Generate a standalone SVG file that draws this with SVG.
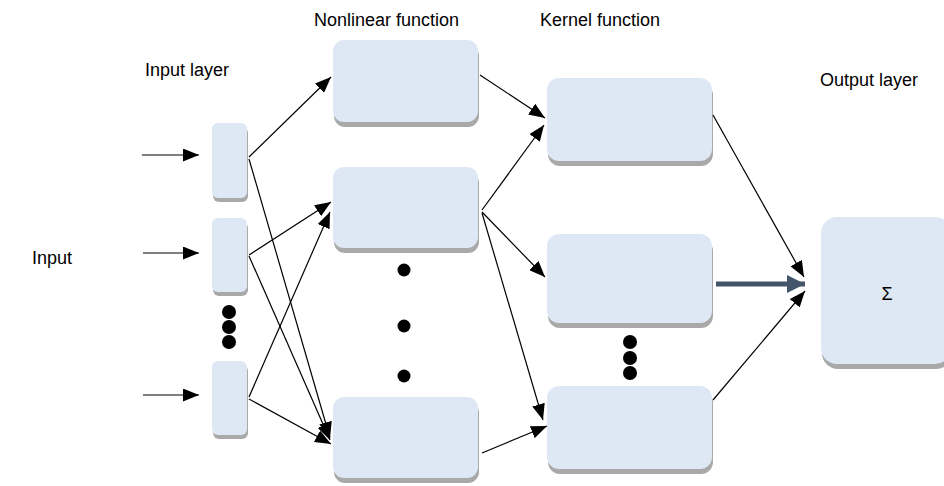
<svg xmlns="http://www.w3.org/2000/svg" width="944" height="486" viewBox="0 0 944 486">
<defs>
<marker id="ah" markerUnits="userSpaceOnUse" markerWidth="16" markerHeight="13" viewBox="0 0 16 13" refX="16" refY="6.5" orient="auto">
<path d="M0,0 L16,6.5 L0,13 Z" fill="#000"/>
</marker>
<marker id="ahb" markerUnits="userSpaceOnUse" markerWidth="18" markerHeight="18" viewBox="0 0 18 18" refX="18" refY="9" orient="auto">
<path d="M0,0 L18,9 L0,18 Z" fill="#44546A"/>
</marker>
</defs>
<style>
.sh{fill:#A9A9A9}
.bx{fill:#DEE8F4}
.t{font-family:"Liberation Sans",Arial,sans-serif;font-size:18px;fill:#000}
.c{stroke:#000;stroke-width:1.2;fill:none;marker-end:url(#ah)}
.d{fill:#000}
</style>
<rect width="944" height="486" fill="#fff"/>
<g id="labels">
<text class="t" x="314" y="26">Nonlinear function</text>
<text class="t" x="540" y="26">Kernel function</text>
<text class="t" x="145" y="76">Input layer</text>
<text class="t" x="820" y="86">Output layer</text>
<text class="t" x="32" y="264">Input</text>
</g>
<g id="in1"><rect class="sh" x="213" y="127" width="35" height="75" rx="6"/><rect class="bx" x="212" y="123" width="35" height="75" rx="6"/></g>
<g id="in2"><rect class="sh" x="213" y="222" width="35" height="74" rx="6"/><rect class="bx" x="212" y="218" width="35" height="74" rx="6"/></g>
<g id="in3"><rect class="sh" x="213" y="365" width="35" height="74" rx="6"/><rect class="bx" x="212" y="361" width="35" height="74" rx="6"/></g>
<g id="in-dots"><circle class="d" cx="229" cy="312" r="7"/><circle class="d" cx="229" cy="327" r="7"/><circle class="d" cx="229" cy="342" r="7"/></g>
<g id="nl1"><rect class="sh" x="334" y="45" width="145" height="82" rx="11"/><rect class="bx" x="333" y="40" width="145" height="82" rx="11"/></g>
<g id="nl2"><rect class="sh" x="334" y="172" width="145" height="81" rx="11"/><rect class="bx" x="333" y="167" width="145" height="81" rx="11"/></g>
<g id="nl3"><rect class="sh" x="334" y="402" width="145" height="81" rx="11"/><rect class="bx" x="333" y="397" width="145" height="81" rx="11"/></g>
<g id="nl-dots"><circle class="d" cx="404" cy="270" r="6.5"/><circle class="d" cx="404" cy="326" r="6.5"/><circle class="d" cx="404" cy="376" r="6.5"/></g>
<g id="k1"><rect class="sh" x="548" y="83" width="165" height="83" rx="12"/><rect class="bx" x="547" y="78" width="165" height="83" rx="12"/></g>
<g id="k2"><rect class="sh" x="548" y="239" width="165" height="89" rx="12"/><rect class="bx" x="547" y="234" width="165" height="89" rx="12"/></g>
<g id="k3"><rect class="sh" x="548" y="391" width="165" height="83" rx="12"/><rect class="bx" x="547" y="386" width="165" height="83" rx="12"/></g>
<g id="k-dots"><circle class="d" cx="630" cy="342" r="7"/><circle class="d" cx="630" cy="358" r="7"/><circle class="d" cx="630" cy="373" r="7"/></g>
<g id="out"><rect class="sh" x="822" y="222" width="130" height="147" rx="16"/><rect class="bx" x="821" y="217" width="130" height="147" rx="16"/><text class="t" x="887" y="300" text-anchor="middle">Σ</text></g>
<g id="connectors">
<line class="c" x1="142" y1="155" x2="199" y2="155"/>
<line class="c" x1="143" y1="253" x2="199" y2="253"/>
<line class="c" x1="143" y1="395" x2="199" y2="395"/>
<line class="c" x1="249" y1="157" x2="331" y2="77"/>
<line class="c" x1="249" y1="159" x2="330" y2="438"/>
<line class="c" x1="249" y1="255" x2="331" y2="202"/>
<line class="c" x1="249" y1="256" x2="330" y2="440"/>
<line class="c" x1="249" y1="397" x2="330" y2="212"/>
<line class="c" x1="249" y1="399" x2="331" y2="444"/>
<line class="c" x1="480" y1="75" x2="545" y2="118"/>
<line class="c" x1="482" y1="210" x2="544" y2="125"/>
<line class="c" x1="482" y1="212" x2="545" y2="277"/>
<line class="c" x1="482" y1="213" x2="543" y2="420"/>
<line class="c" x1="482" y1="453" x2="547" y2="426"/>
<line class="c" x1="713" y1="115" x2="804" y2="277"/>
<line class="c" x1="713" y1="400" x2="805" y2="291"/>
<line x1="716" y1="284" x2="805" y2="284" stroke="#44546A" stroke-width="5" marker-end="url(#ahb)"/>
</g>
</svg>
